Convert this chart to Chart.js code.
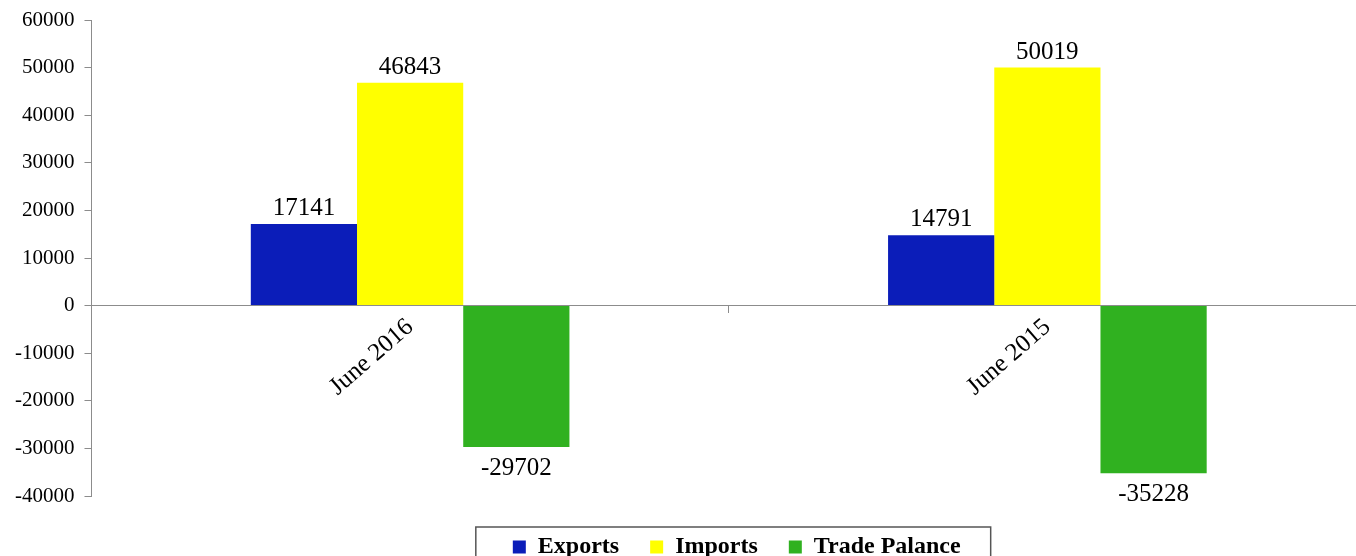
<!DOCTYPE html>
<html>
<head>
<meta charset="utf-8">
<script src="https://cdn.jsdelivr.net/npm/chart.js@4.4.1/dist/chart.umd.min.js"></script>
<style>
  html, body { margin: 0; padding: 0; background: #fff; overflow: hidden; }
  #wrap { width: 1366px; height: 569px; position: relative; }
</style>
</head>
<body>
<div id="wrap"><canvas id="trade"></canvas></div>
<script>
// data
var categories = ['June 2016', 'June 2015'];
var seriesNames = ['Exports', 'Imports', 'Trade Palance'];
var exportsVals = [17141, 14791];
var importsVals = [46843, 50019];
var balanceVals = [-29702, -35228];
var yTicks = [-40000, -30000, -20000, -10000, 0, 10000, 20000, 30000, 40000, 50000, 60000];

var colors = ['#0b1db9', '#ffff00', '#30b120'];
var axisGray = '#8c8c8c';
var serif = "'Liberation Serif', 'Times New Roman', serif";

// value labels above / below each bar
var valueLabels = {
  id: 'valueLabels',
  afterDatasetsDraw: function (chart) {
    var ctx = chart.ctx;
    ctx.save();
    ctx.font = '25px ' + serif;
    ctx.fillStyle = '#000';
    ctx.textAlign = 'center';
    chart.data.datasets.forEach(function (ds, i) {
      var meta = chart.getDatasetMeta(i);
      meta.data.forEach(function (bar, j) {
        var v = ds.data[j];
        if (v >= 0) {
          ctx.textBaseline = 'bottom';
          ctx.fillText(String(v), bar.x, bar.y - 3);
        } else {
          ctx.textBaseline = 'top';
          ctx.fillText(String(v), bar.x, bar.y + 9);
        }
      });
    });
    ctx.restore();
  }
};

// nudge the legend right and down, then frame it
var legendFrame = {
  id: 'legendFrame',
  afterLayout: function (chart) {
    chart.legend.left += 8;
    chart.legend.right += 8;
    chart.legend.top += 8;
    chart.legend.bottom += 8;
  },
  afterDraw: function (chart) {
    var hb = chart.legend.legendHitBoxes;
    if (!hb || !hb.length) return;
    var last = hb[hb.length - 1];
    var x0 = hb[0].left - 37;
    var x1 = last.left + last.width + 30;
    var y0 = hb[0].top - 8;
    var ctx = chart.ctx;
    ctx.save();
    ctx.strokeStyle = '#555';
    ctx.lineWidth = 1.5;
    ctx.strokeRect(x0, y0, x1 - x0, 60);
    ctx.restore();
  }
};

var chart = new Chart(document.getElementById('trade'), {
  type: 'bar',
  data: {
    labels: categories,
    datasets: [
      { label: seriesNames[0], data: exportsVals, backgroundColor: colors[0] },
      { label: seriesNames[1], data: importsVals, backgroundColor: colors[1] },
      { label: seriesNames[2], data: balanceVals, backgroundColor: colors[2] }
    ]
  },
  options: {
    responsive: true,
    maintainAspectRatio: false,
    animation: false,
    categoryPercentage: 0.5,
    barPercentage: 1.0,
    layout: { padding: { left: 5, top: 0, right: 0, bottom: 0 } },
    scales: {
      x: {
        position: { y: 0 },
        grid: { drawOnChartArea: false, drawTicks: true, tickLength: 7, color: axisGray },
        border: { color: axisGray },
        ticks: {
          color: '#000',
          font: { family: serif, size: 25 },
          minRotation: 41,
          maxRotation: 41,
          padding: 0,
          autoSkip: false
        }
      },
      y: {
        min: -40000,
        max: 60000,
        afterBuildTicks: function (s) {
          s.ticks = yTicks.map(function (v) { return { value: v }; });
        },
        afterFit: function (s) {
          s.paddingTop = 20;
          s.paddingBottom = 73;
        },
        grid: { drawOnChartArea: false, drawTicks: true, tickLength: 7, color: axisGray },
        border: { color: axisGray },
        ticks: {
          color: '#000',
          font: { family: serif, size: 21 },
          padding: 10,
          callback: function (v) { return String(v); }
        }
      }
    },
    plugins: {
      legend: {
        position: 'bottom',
        fullSize: false,
        labels: {
          color: '#000',
          font: { family: serif, size: 24, weight: 'bold' },
          boxWidth: 13,
          boxHeight: 13,
          padding: 31
        }
      },
      tooltip: { enabled: false }
    }
  },
  plugins: [valueLabels, legendFrame]
});
</script>
</body>
</html>
